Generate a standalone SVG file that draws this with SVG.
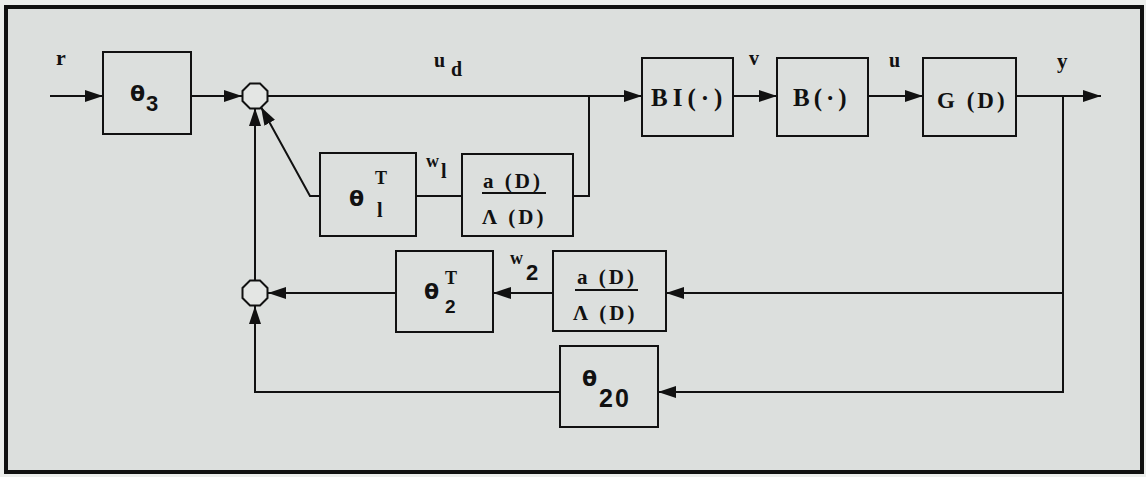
<svg xmlns="http://www.w3.org/2000/svg" width="1146" height="477" viewBox="0 0 1146 477">
<style>
.box{fill:none;stroke:#111;stroke-width:2}
.ln{fill:none;stroke:#111;stroke-width:2}
.sum{fill:#e4e6e4;stroke:#111;stroke-width:2}
.t{font-family:"Liberation Serif",serif;font-weight:bold;fill:#111}
.s{font-family:"Liberation Sans",sans-serif;font-weight:bold;fill:#111}
.th{font-family:"DejaVu Sans",sans-serif;font-weight:bold;fill:#111;font-size:22px}
</style>
<defs>
<marker id="ah" markerWidth="18" markerHeight="12" refX="18" refY="6" orient="auto" markerUnits="userSpaceOnUse">
<path d="M0,0 L18,6 L0,12 z" fill="#111"/>
</marker>
</defs>
<rect x="0" y="0" width="1146" height="477" fill="#eceeec"/>
<rect x="6" y="7" width="1136" height="465" fill="#dcdfdd" stroke="#111" stroke-width="4"/>

<g id="connectors">
<path class="ln" d="M50,96 H103" marker-end="url(#ah)"/>
<path class="ln" d="M191,96 H242" marker-end="url(#ah)"/>
<path class="ln" d="M267,96 H642" marker-end="url(#ah)"/>
<path class="ln" d="M589,96 V196 H573"/>
<path class="ln" d="M462,196 H416"/>
<path class="ln" d="M320,196 H310 L261,107" marker-end="url(#ah)"/>
<path class="ln" d="M733,96 H777" marker-end="url(#ah)"/>
<path class="ln" d="M868,96 H923" marker-end="url(#ah)"/>
<path class="ln" d="M1016,96 H1101" marker-end="url(#ah)"/>
<path class="ln" d="M1063,96 V392 H658" marker-end="url(#ah)"/>
<path class="ln" d="M1063,293 H666" marker-end="url(#ah)"/>
<path class="ln" d="M553,293 H493" marker-end="url(#ah)"/>
<path class="ln" d="M396,293 H268" marker-end="url(#ah)"/>
<path class="ln" d="M560,392 H255 V306" marker-end="url(#ah)"/>
<path class="ln" d="M255,281 V108" marker-end="url(#ah)"/>
</g>

<g id="labels">
<text class="t" x="56" y="65" font-size="22">r</text>
<text class="t" x="434" y="67" font-size="20">u</text>
<text class="t" x="451" y="76" font-size="20">d</text>
<text class="t" x="749" y="65" font-size="20">v</text>
<text class="t" x="889" y="67" font-size="20">u</text>
<text class="t" x="1057" y="68" font-size="21">y</text>
<text class="t" x="426" y="167" font-size="18">w</text>
<text class="t" x="441" y="178" font-size="20">l</text>
<text class="t" x="510" y="264" font-size="18">w</text>
<text class="s" x="526" y="280" font-size="22">2</text>
</g>

<g id="sum1"><polygon class="sum" points="250,83.5 260,83.5 267.5,91 267.5,101 260,108.5 250,108.5 242.5,101 242.5,91"/></g>
<g id="sum2"><polygon class="sum" points="250,280.5 260,280.5 267.5,288 267.5,298 260,305.5 250,305.5 242.5,298 242.5,288"/></g>

<g id="theta3">
<rect class="box" x="103" y="52" width="88" height="82"/>
<text class="th" x="130" y="101">θ</text>
<text class="s" x="146" y="111" font-size="22">3</text>
</g>

<g id="theta1T">
<rect class="box" x="320" y="153" width="96" height="83"/>
<text class="th" x="349" y="206">θ</text>
<text class="t" x="375" y="184" font-size="18">T</text>
<text class="t" x="377" y="217" font-size="20">l</text>
</g>

<g id="filter1">
<rect class="box" x="462" y="154" width="111" height="82"/>
<text class="t" x="483" y="188" font-size="21" letter-spacing="3">a (D)</text>
<line class="ln" x1="482" y1="193" x2="546" y2="193"/>
<text class="t" x="482" y="224" font-size="21" letter-spacing="3">Λ (D)</text>
</g>

<g id="BI">
<rect class="box" x="642" y="58" width="91" height="78"/>
<text class="t" x="651" y="106" font-size="25" letter-spacing="5">BI(·)</text>
</g>

<g id="B">
<rect class="box" x="777" y="58" width="91" height="78"/>
<text class="t" x="793" y="106" font-size="25" letter-spacing="4">B(·)</text>
</g>

<g id="G">
<rect class="box" x="923" y="58" width="93" height="78"/>
<text class="t" x="937" y="108" font-size="23" letter-spacing="3">G (D)</text>
</g>

<g id="filter2">
<rect class="box" x="553" y="251" width="113" height="80"/>
<text class="t" x="577" y="284" font-size="21" letter-spacing="3">a (D)</text>
<line class="ln" x1="575" y1="290" x2="638" y2="290"/>
<text class="t" x="573" y="320" font-size="21" letter-spacing="3">Λ (D)</text>
</g>

<g id="theta2T">
<rect class="box" x="396" y="251" width="97" height="81"/>
<text class="th" x="424" y="299">θ</text>
<text class="t" x="445" y="284" font-size="18">T</text>
<text class="s" x="445" y="313" font-size="19">2</text>
</g>

<g id="theta20">
<rect class="box" x="560" y="346" width="98" height="81"/>
<text class="th" x="582" y="386">θ</text>
<text class="s" x="599" y="407" font-size="25" letter-spacing="2">20</text>
</g>
</svg>
